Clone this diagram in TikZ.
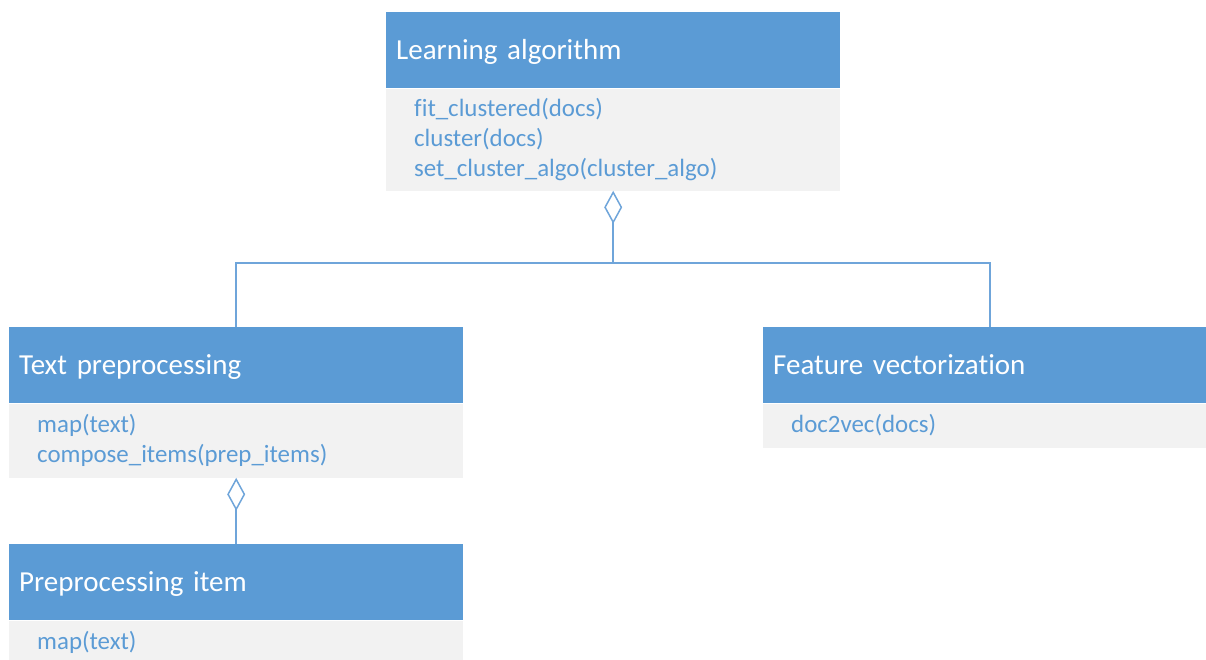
\documentclass[tikz,border=0pt]{standalone}
\usepackage{fontspec}
\setmainfont{Carlito}[Ligatures=NoCommon]
\usetikzlibrary{positioning,arrows.meta}

\definecolor{headblue}{HTML}{5B9BD5}
\definecolor{bodygray}{HTML}{F2F2F2}
\definecolor{linkblue}{HTML}{6FA5DA}

\tikzset{
  head/.style={rectangle, fill=headblue, text=white, anchor=north west,
    minimum height=76pt, inner xsep=10pt, inner ysep=0pt, text width=434pt,
    text height=24pt, text depth=6pt,
    align=left, font=\fontsize{29}{35}\selectfont},
  ops/.style={rectangle, fill=bodygray, text=headblue,
    inner xsep=28pt, inner ysep=0pt, text width=398pt,
    align=left, font=\fontsize{24.9}{30}\selectfont},
  link/.style={draw=linkblue, line width=1.5pt},
  agg/.style={link, {Diamond[open, length=33pt, width=18pt, fill=white]}-}
}

\begin{document}
\begin{tikzpicture}[x=1pt, y=-1pt]
  \useasboundingbox (0,0) rectangle (1206,659);
  \clip (0,0) rectangle (1206,659);

  % classes
  \node[head] (lah) at (386, 12) {Learning algorithm};
  \node[ops, minimum height=102pt, below=0pt of lah] (lab)
    {fit\_clustered(docs)\\cluster(docs)\\set\_cluster\_algo(cluster\_algo)};

  \node[head] (tph) at (9, 327) {Text preprocessing};
  \node[ops, minimum height=74pt, below=0pt of tph] (tpb)
    {map(text)\\compose\_items(prep\_items)};

  \node[head] (fvh) at (763, 327) {Feature vectorization};
  \node[ops, minimum height=44pt, below=0pt of fvh] (fvb) {doc2vec(docs)};

  \node[head] (pih) at (9, 544) {Preprocessing item};
  \node[ops, minimum height=44pt, below=0pt of pih] (pib) {map(text)};

  % aggregations
  \draw[agg] (lab.south) -- ++(0, 72) coordinate (fork) -| (tph.north);
  \draw[link] (fork) -| (fvh.north);
  \draw[agg] (tpb.south) -- (pih.north);
\end{tikzpicture}
\end{document}
